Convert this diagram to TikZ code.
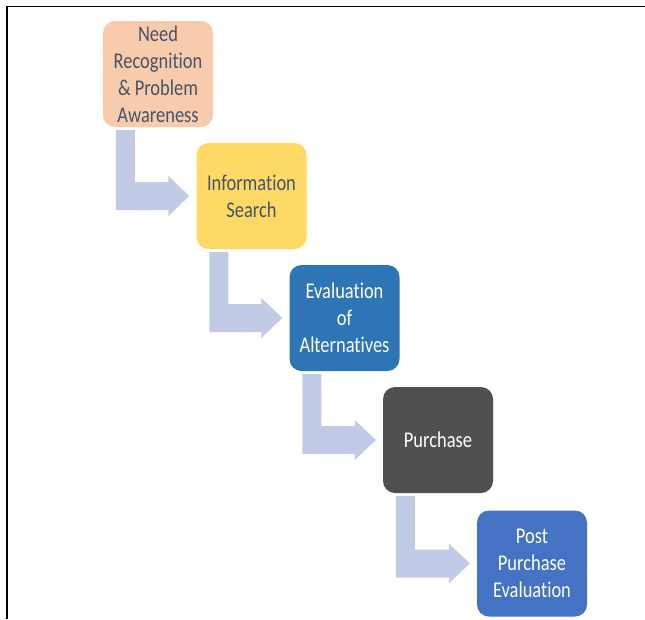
\documentclass[tikz,border=0pt]{standalone}
\usepackage{fontspec}
\setmainfont{Carlito}[FakeStretch=0.82, Ligatures=NoCommon]
\usetikzlibrary{calc}
\definecolor{peach}{HTML}{F8CBAD}
\definecolor{gold}{HTML}{FFD966}
\definecolor{midblue}{HTML}{2E75B6}
\definecolor{darkgray}{HTML}{505050}
\definecolor{lightblue}{HTML}{4472C4}
\definecolor{slatetext}{HTML}{44546A}
\definecolor{arrowfill}{HTML}{C2CBE5}
\tikzset{
  stepbox/.style={rounded corners=12pt, minimum width=110pt, minimum height=106pt,
    inner sep=0pt, align=center, font=\fontsize{22.5}{27}\selectfont, draw=none},
  bentarrow/.style={fill=arrowfill, draw=none}
}
\newcommand{\bentarr}[2]{%
  \fill[bentarrow] let \p1=(#1.south west), \p2=(#2.west) in
    (\x1+13pt,\y1-3pt) -- (\x1+32pt,\y1-3pt) -- (\x1+32pt,\y2+14pt) --
    (\x2-28pt,\y2+14pt) -- (\x2-28pt,\y2+20pt) -- (\x2-7pt,\y2) --
    (\x2-28pt,\y2-20pt) -- (\x2-28pt,\y2-14pt) -- (\x1+13pt,\y2-14pt) -- cycle;}
\begin{document}
\begin{tikzpicture}[x=1pt,y=-1pt]
\useasboundingbox (0,0) rectangle (645,619);
\fill[white] (0,0) rectangle (645,619);
\draw[line width=1.5pt] (645,6.5) -- (7,6.5) -- (7,619);
\node[stepbox, fill=peach, text=slatetext] (b1) at (158,74) {Need\\Recognition\\\& Problem\\Awareness};
\node[stepbox, fill=gold, text=slatetext] (b2) at (251.5,196) {Information\\Search};
\node[stepbox, fill=midblue, text=white] (b3) at (344.5,318) {Evaluation\\of\\Alternatives};
\node[stepbox, fill=darkgray, text=white] (b4) at (438,440) {Purchase};
\node[stepbox, fill=lightblue, text=white] (b5) at (532,563.5) {Post\\Purchase\\Evaluation};
\bentarr{b1}{b2}
\bentarr{b2}{b3}
\bentarr{b3}{b4}
\bentarr{b4}{b5}
\end{tikzpicture}
\end{document}
